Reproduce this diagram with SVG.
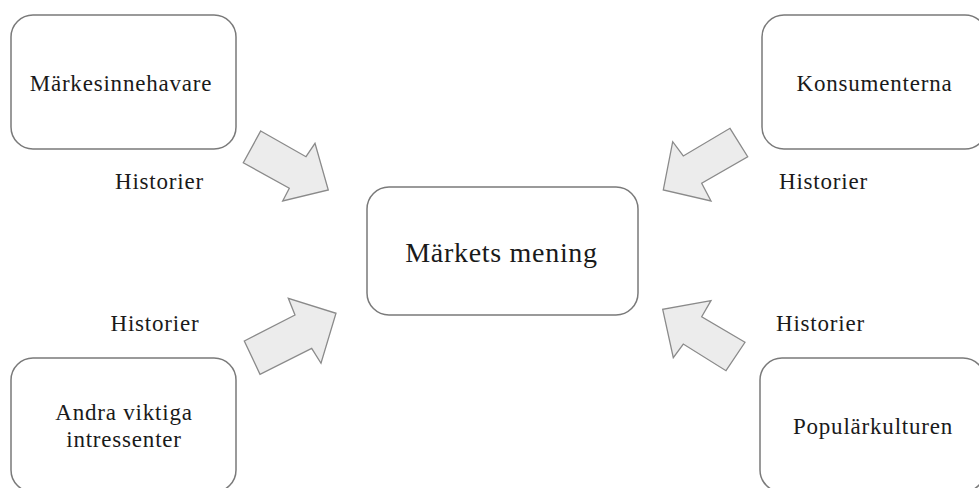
<svg xmlns="http://www.w3.org/2000/svg" width="979" height="488" viewBox="0 0 979 488">
  <style>
    .box { fill: #ffffff; stroke: #7a7a7a; stroke-width: 1.5; }
    .arrow { fill: #ececec; stroke: #8a8a8a; stroke-width: 1.3; stroke-linejoin: miter; }
    .lbl { font-family: "Liberation Serif", "DejaVu Serif", serif; font-size: 23px; letter-spacing: 0.8px; fill: #1a1a1a; text-anchor: middle; }
    .main { font-family: "Liberation Serif", "DejaVu Serif", serif; font-size: 28px; letter-spacing: 0.7px; fill: #1a1a1a; text-anchor: middle; }
  </style>
  <rect width="979" height="488" fill="#ffffff"/>

  <g id="connectors">
    <!-- block arrows pointing at the central node -->
    <polygon class="arrow" points="260.7,131 306,156.7 315,143.3 328.3,190 282.7,201 289.3,188.3 243.3,162.7"/>
    <polygon class="arrow" points="730,128.3 747.7,156.7 701.7,183.3 711,201 663.3,190 672.7,141.7 683.3,156"/>
    <polygon class="arrow" points="244.3,341 295,315 288.3,298.3 336,313.3 321,363.3 311.7,348.3 260,374.3"/>
    <polygon class="arrow" points="745,342.3 701.7,316.7 711,300.7 662.7,309.3 673.3,357.7 683.3,344 726,370.7"/>
    <text class="lbl" x="159.5" y="189">Historier</text>
    <text class="lbl" x="823.5" y="189.3">Historier</text>
    <text class="lbl" x="155" y="330.7">Historier</text>
    <text class="lbl" x="820.5" y="330.7">Historier</text>
  </g>

  <g id="node-markesinnehavare">
    <rect class="box" x="11" y="15" width="225" height="134" rx="22" ry="22"/>
    <text class="lbl" x="121" y="91">Märkesinnehavare</text>
  </g>

  <g id="node-konsumenterna">
    <rect class="box" x="762" y="15" width="225" height="134" rx="22" ry="22"/>
    <text class="lbl" x="874.5" y="91">Konsumenterna</text>
  </g>

  <g id="node-andra">
    <rect class="box" x="11" y="358" width="225" height="134" rx="22" ry="22"/>
    <text class="lbl" x="124" y="420">Andra viktiga</text>
    <text class="lbl" x="124" y="446.7">intressenter</text>
  </g>

  <g id="node-popularkulturen">
    <rect class="box" x="760" y="358" width="225" height="134" rx="22" ry="22"/>
    <text class="lbl" x="873" y="434">Populärkulturen</text>
  </g>

  <g id="node-center">
    <rect class="box" x="367" y="187" width="271" height="128" rx="22" ry="22"/>
    <text class="main" x="501.5" y="262">Märkets mening</text>
  </g>
</svg>
